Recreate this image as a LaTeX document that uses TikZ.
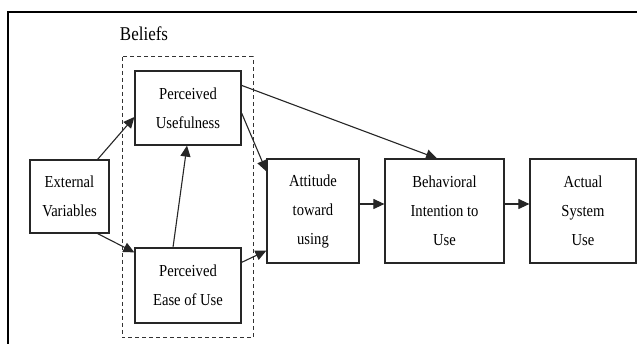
\documentclass[tikz,border=0pt]{standalone}
\usepackage{fontspec}
\setmainfont{Liberation Serif}[FakeStretch=0.87]
\usetikzlibrary{arrows.meta}
\begin{document}
\begin{tikzpicture}[x=1pt,y=-1pt,
  box/.style={draw=black!85,line width=1.2pt,rectangle,inner sep=0pt,align=center,
    font=\fontsize{16.8}{29}\selectfont},
  arr/.style={draw=black!85,line width=1.1pt,-{Triangle[length=11pt,width=10pt]}},
  grp/.style={draw=black!80,line width=1pt,dash pattern=on 4pt off 3pt}]
\useasboundingbox (0,0) rectangle (637,344);
\fill[white] (0,0) rectangle (637,344);
\draw[line width=2.2pt,line cap=rect] (8,350) -- (8,12) -- (650,12);
\node[font=\fontsize{19.5}{22}\selectfont] (bel) at (144,34) {Beliefs};
\draw[grp] (122,57) rectangle (253,338);
\node[box,minimum width=79pt,minimum height=73pt] (ext) at (69.5,196.5) {External\\Variables};
\node[box,minimum width=106pt,minimum height=74pt] (pu) at (188,108) {Perceived\\Usefulness};
\node[box,minimum width=106pt,minimum height=75pt] (peou) at (188,285.5) {Perceived\\Ease of Use};
\node[box,minimum width=92pt,minimum height=104pt] (att) at (313,211) {Attitude\\toward\\using};
\node[box,minimum width=119pt,minimum height=104pt] (bi) at (444.5,211) {Behavioral\\Intention to\\Use};
\node[box,minimum width=106pt,minimum height=104pt] (act) at (583,211) {Actual\\System\\Use};
\draw[arr] ([xshift=-12pt]ext.north east) -- ([yshift=-9pt]pu.west);
\draw[arr] ([xshift=-12pt]ext.south east) -- ([yshift=-5pt]peou.north west);
\draw[arr] ([xshift=-15pt]peou.north) -- ([xshift=-1pt]pu.south);
\draw[arr] ([yshift=-5pt]pu.east) -- ([yshift=-13pt]att.north west);
\draw[arr] ([yshift=-15pt]peou.north east) -- ([yshift=13pt]att.south west);
\draw[arr] ([yshift=-15pt]pu.north east) -- ([xshift=-7.5pt]bi.north);
\draw[arr] ([yshift=7pt]att.east) -- ([yshift=7pt]bi.west);
\draw[arr] ([yshift=7pt]bi.east) -- ([yshift=7pt]act.west);
\end{tikzpicture}
\end{document}
